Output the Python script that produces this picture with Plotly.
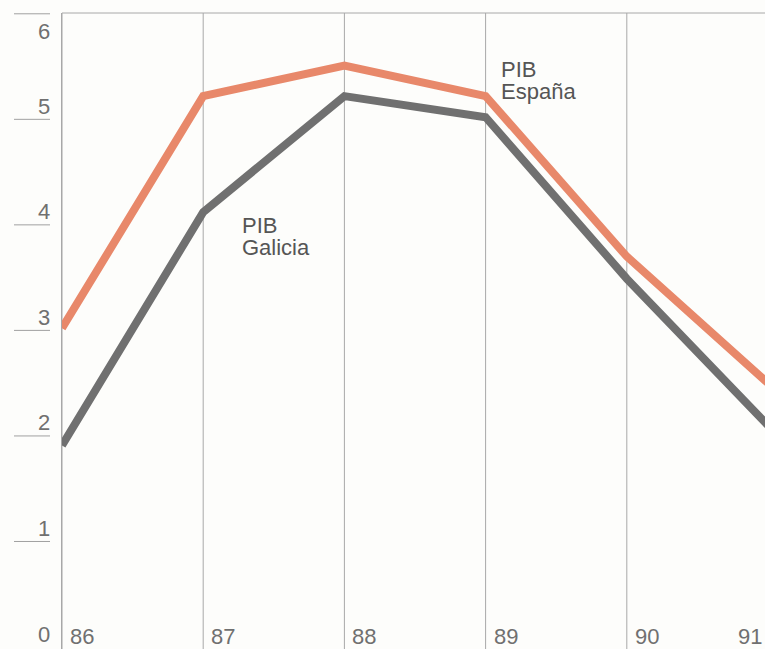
import plotly.graph_objects as go

years = [86, 87, 88, 89, 90, 91]
pib_espana = [3.02, 5.22, 5.51, 5.22, 3.70, 2.50]
pib_galicia = [1.91, 4.12, 5.22, 5.02, 3.49, 2.10]
y_ticks = [0, 1, 2, 3, 4, 5, 6]
x_labels = ["86", "87", "88", "89", "90", "91"]

W, H = 765, 649
L, T = 62, 13
plot_w = W - L
px_per_year = 141.2
x_max = 86 + plot_w / px_per_year
px_per_unit = 106.2
y0_pix = 651
y_min = -(y0_pix - H) / px_per_unit
y_max = (y0_pix - T) / px_per_unit

font_fam = "Liberation Sans, Arial, sans-serif"
txt_col = "#707070"


def px(xpage):
    return (xpage - L) / plot_w


fig = go.Figure()
fig.add_trace(go.Scatter(x=years, y=pib_galicia, mode="lines",
                         line=dict(color="#707070", width=8), hoverinfo="skip"))
fig.add_trace(go.Scatter(x=years, y=pib_espana, mode="lines",
                         line=dict(color="#E8886A", width=8), hoverinfo="skip"))

shapes = []
for yr in years[:-1]:
    shapes.append(dict(type="line", xref="x", yref="paper", x0=yr, x1=yr, y0=0, y1=1,
                       line=dict(color="#a8a8a8", width=1), layer="below"))
shapes.append(dict(type="line", xref="paper", yref="paper", x0=0, x1=1, y0=1, y1=1,
                   line=dict(color="#a8a8a8", width=1)))
for v in y_ticks[1:]:
    shapes.append(dict(type="line", xref="paper", yref="y", x0=px(14), x1=px(50), y0=v, y1=v,
                       line=dict(color="#a0a0a0", width=1)))

annotations = []
for v in y_ticks:
    if v == 6:
        ys = -18
    elif v == 0:
        ys = 13
    else:
        ys = 13
    annotations.append(dict(xref="paper", yref="y", x=px(52), y=v, yshift=ys,
                            text=str(v), showarrow=False, xanchor="right", yanchor="middle",
                            font=dict(family=font_fam, size=22, color=txt_col)))
for yr, lab in zip(years, x_labels):
    if yr == 91:
        annotations.append(dict(xref="paper", yref="paper", x=px(764), y=0,
                                yshift=13, text=lab, showarrow=False, xanchor="right",
                                yanchor="middle",
                                font=dict(family=font_fam, size=22, color=txt_col)))
    else:
        annotations.append(dict(xref="x", yref="paper", x=yr, y=0, xshift=6, yshift=13,
                                text=lab, showarrow=False, xanchor="left", yanchor="middle",
                                font=dict(family=font_fam, size=22, color=txt_col)))

label_font = dict(family=font_fam, size=22, color="#555555")
annotations += [
    dict(xref="x", yref="y", x=89, y=(651 - 70) / px_per_unit, xshift=13, text="PIB",
         showarrow=False, xanchor="left", yanchor="middle", font=label_font),
    dict(xref="x", yref="y", x=89, y=(651 - 92) / px_per_unit, xshift=13, text="España",
         showarrow=False, xanchor="left", yanchor="middle", font=label_font),
    dict(xref="x", yref="y", x=87, y=(651 - 227) / px_per_unit, xshift=37, text="PIB",
         showarrow=False, xanchor="left", yanchor="middle", font=label_font),
    dict(xref="x", yref="y", x=87, y=(651 - 249) / px_per_unit, xshift=37, text="Galicia",
         showarrow=False, xanchor="left", yanchor="middle", font=label_font),
]

fig.update_layout(
    width=W, height=H,
    margin=dict(l=L, r=0, t=T, b=0),
    paper_bgcolor="#fdfdfb", plot_bgcolor="#fdfdfb",
    showlegend=False,
    xaxis=dict(range=[86, x_max], showgrid=False, zeroline=False, showticklabels=False,
               showline=False, fixedrange=True),
    yaxis=dict(range=[y_min, y_max], showgrid=False, zeroline=False, showticklabels=False,
               showline=True, linecolor="#a8a8a8", linewidth=1, fixedrange=True),
    shapes=shapes, annotations=annotations,
)

fig.write_html("out.html", config={"displayModeBar": False},
               post_script="document.body.style.margin='0';"
                           "document.body.style.overflow='hidden';")
